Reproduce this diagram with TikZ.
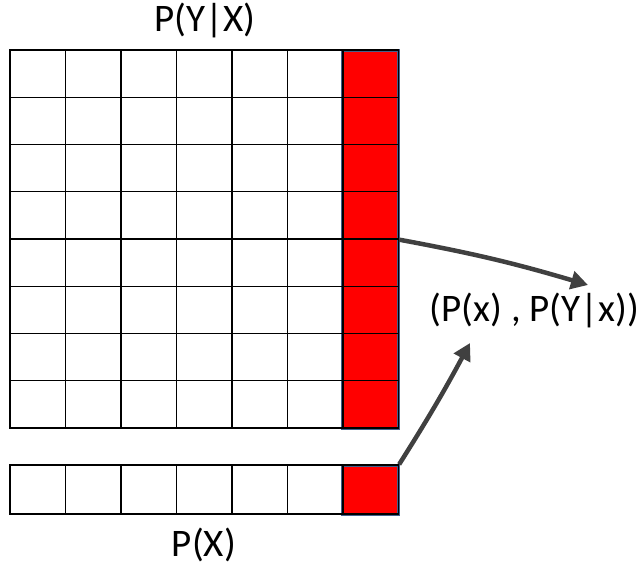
\documentclass[tikz,border=0pt]{standalone}
\usepackage{fontspec}
\setmainfont{Carlito}
\usetikzlibrary{arrows.meta}
\definecolor{edgegray}{RGB}{64,64,64}
\definecolor{colblue}{RGB}{68,96,140}

\begin{document}
\begin{tikzpicture}[x=1pt,y=-1pt,
    cellbox/.style={draw,line width=1.3pt,minimum width=55.5pt,minimum height=47.25pt,inner sep=0pt},
    pickbox/.style={draw=colblue,fill=red,line width=3pt,minimum width=55.5pt,inner sep=0pt},
    lbl/.style={font=\fontsize{39}{46}\selectfont,inner sep=0pt},
    conn/.style={-{Triangle[length=17pt,width=18pt]},line width=4.5pt,draw=edgegray}]
  \useasboundingbox (0,0) rectangle (644,565);
  % chosen column and chosen cell
  \node[pickbox,minimum height=378pt] (ycol) at (370.25,239) {};
  \node[pickbox,minimum height=49pt] (xpick) at (370.25,489.5) {};
  % conditional table
  \foreach \c in {1,...,7}
    \foreach \r in {1,...,8}
      \node[cellbox] (c\c-\r) at ({10+55.5*(\c-0.5)},{50+47.25*(\r-0.5)}) {};
  % marginal row
  \foreach \c in {1,...,7}
    \node[cellbox,minimum height=49pt] (x\c) at ({10+55.5*(\c-0.5)},489.5) {};
  % labels
  \node[lbl] (pyx) at (205,20) {P(Y|X)};
  \node[lbl] (px) at (204,545) {P(X)};
  \node[lbl] (pair) at (534.5,310) {(P(x) , P(Y|x))};
  \coordinate (tipa) at (588,285);
  \coordinate (tipb) at (470,343);
  \draw[conn] (c7-4.south east) to[bend left=3] (tipa);
  \draw[conn] (x7.north east) to[bend right=2] (tipb);
\end{tikzpicture}
\end{document}
